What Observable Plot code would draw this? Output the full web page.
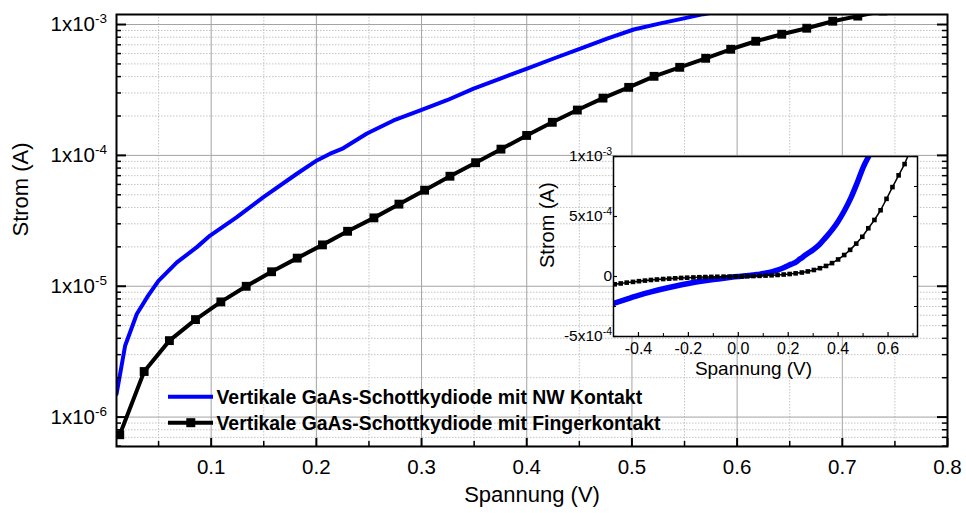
<!DOCTYPE html>
<html><head><meta charset="utf-8">
<script src="https://cdn.jsdelivr.net/npm/d3@7"></script>
<script src="https://cdn.jsdelivr.net/npm/@observablehq/plot@0.6"></script>
<style>
html,body{margin:0;padding:0;background:#fff;overflow:hidden}
#wrap{position:relative;width:966px;height:513px;font-family:"Liberation Sans",Arial,sans-serif}
#wrap svg{position:absolute;max-width:none}
</style></head><body><div id="wrap"></div>
<script>
// ---------- data ----------
const seriesNames = ["Vertikale GaAs-Schottkydiode mit NW Kontakt", "Vertikale GaAs-Schottkydiode mit Fingerkontakt"];
const seriesColors = ["#0000ff", "#000000"];

// NW contact (blue), forward
const V_nw = [0.010, 0.0182, 0.0293, 0.0401, 0.0499, 0.0674, 0.0864, 0.0990, 0.1244, 0.1497, 0.1815, 0.2005, 0.2131, 0.2243, 0.2481, 0.2734, 0.2988, 0.3242, 0.3495, 0.3749, 0.4003, 0.4256, 0.4510, 0.4764, 0.5017, 0.5271, 0.5461, 0.5680, 0.5841];
const I_nw = [1.5e-6, 3.51e-6, 6.14e-6, 8.47e-6, 1.10e-5, 1.52e-5, 1.99e-5, 2.44e-5, 3.37e-5, 4.80e-5, 7.24e-5, 9.15e-5, 1.03e-4, 1.12e-4, 1.47e-4, 1.85e-4, 2.21e-4, 2.64e-4, 3.24e-4, 3.86e-4, 4.61e-4, 5.50e-4, 6.55e-4, 7.81e-4, 9.16e-4, 1.02e-3, 1.10e-3, 1.20e-3, 1.27e-3];
// NW contact, reverse (inset only)
const V_nw_rev = [-0.5, -0.45, -0.4, -0.35, -0.3, -0.25, -0.2, -0.15, -0.1, -0.05, 0.0];
const I_nw_rev = [-2.25e-4, -1.9e-4, -1.57e-4, -1.28e-4, -1.02e-4, -7.9e-5, -5.8e-5, -4.0e-5, -2.5e-5, -1.2e-5, 0];

// Finger contact (black squares), forward
const V_fk = [0.0131, 0.0363, 0.0603, 0.0851, 0.1092, 0.1333, 0.1574, 0.1818, 0.2058, 0.2297, 0.2547, 0.2785, 0.3029, 0.3270, 0.3514, 0.3755, 0.3999, 0.4243, 0.4481, 0.4725, 0.4969, 0.5210, 0.5454, 0.5701, 0.5939, 0.6177, 0.6424, 0.6662, 0.6909, 0.7147, 0.7386];
const I_fk = [7.33e-7, 2.23e-6, 3.84e-6, 5.56e-6, 7.59e-6, 9.99e-6, 1.29e-5, 1.64e-5, 2.07e-5, 2.63e-5, 3.33e-5, 4.24e-5, 5.42e-5, 6.93e-5, 8.79e-5, 1.116e-4, 1.42e-4, 1.79e-4, 2.22e-4, 2.74e-4, 3.31e-4, 4.02e-4, 4.71e-4, 5.52e-4, 6.47e-4, 7.45e-4, 8.43e-4, 9.37e-4, 1.06e-3, 1.16e-3, 1.27e-3];
// Finger contact, reverse (inset only)
const V_fk_rev = [-0.495, -0.471, -0.447, -0.422, -0.398, -0.374, -0.350, -0.326, -0.301, -0.277, -0.253, -0.229, -0.205, -0.180, -0.156, -0.132, -0.108, -0.084, -0.059, -0.035, -0.011];
const I_fk_rev = [-6.5e-5, -5.8e-5, -5.1e-5, -4.5e-5, -3.9e-5, -3.4e-5, -2.9e-5, -2.5e-5, -2.1e-5, -1.8e-5, -1.5e-5, -1.2e-5, -1.0e-5, -8e-6, -6e-6, -4.5e-6, -3.2e-6, -2.2e-6, -1.4e-6, -8e-7, -3e-7];

// main axes ticks
const xTicks = [0.1, 0.2, 0.3, 0.4, 0.5, 0.6, 0.7, 0.8];
const xMinor = [0.05, 0.15, 0.25, 0.35, 0.45, 0.55, 0.65, 0.75];
const yTicks = [1e-6, 1e-5, 1e-4, 1e-3];
const yTickLabels = ["1x10^-6", "1x10^-5", "1x10^-4", "1x10^-3"];
const yMinor = [6e-7, 7e-7, 8e-7, 9e-7, 2e-6, 3e-6, 4e-6, 5e-6, 6e-6, 7e-6, 8e-6, 9e-6, 2e-5, 3e-5, 4e-5, 5e-5, 6e-5, 7e-5, 8e-5, 9e-5, 2e-4, 3e-4, 4e-4, 5e-4, 6e-4, 7e-4, 8e-4, 9e-4];

// inset ticks
const xTicksIn = [-0.4, -0.2, 0.0, 0.2, 0.4, 0.6];
const xMinorIn = [-0.3, -0.1, 0.1, 0.3, 0.5, 0.7];
const yTicksIn = [-5e-4, 0, 5e-4, 1e-3];
const yTickLabelsIn = ["-5x10^-4", "0", "5x10^-4", "1x10^-3"];
const yMinorIn = [-2.5e-4, 2.5e-4, 7.5e-4];

const xLabel = "Spannung (V)";
const yLabel = "Strom (A)";

// ---------- build tables ----------
const nw = V_nw.map((v, i) => ({V: v, I: I_nw[i]}));
const fk = V_fk.map((v, i) => ({V: v, I: I_fk[i]}));
const nwAll = V_nw_rev.map((v, i) => ({V: v, I: I_nw_rev[i]})).concat(nw);
const fkAll = V_fk_rev.map((v, i) => ({V: v, I: I_fk_rev[i]})).concat(fk);

const FONT = '"Liberation Sans", Arial, sans-serif';
const wrap = document.getElementById("wrap");

function supify(svg, supSize, shift) {
  d3.select(svg).selectAll("text").each(function () {
    const t = this.textContent;
    if (!t.includes("^")) return;
    const [base, exp] = t.split("^");
    const sel = d3.select(this);
    sel.selectAll("*").remove();
    this.textContent = "";
    sel.append("tspan").text(base);
    sel.append("tspan").attr("dy", shift).attr("font-size", supSize).text(exp);
  });
}

// ---------- main chart ----------
const mW = 966, mH = 513, mL = 116, mR = 19, mT = 14, mB = 67;
const iw = mW - mL - mR, ih = mH - mT - mB;
const gridMajor = "#a3a3a3", gridMinor = "#c4c4c4";

const main = Plot.plot({
  width: mW, height: mH,
  marginLeft: mL, marginRight: mR, marginTop: mT, marginBottom: mB,
  style: {background: "transparent", fontFamily: FONT, fontSize: "20.5px", color: "black", overflow: "visible"},
  x: {domain: [0.01, 0.8], ticks: xTicks, tickFormat: d => d.toFixed(1), tickSize: 0, tickPadding: 13, label: null},
  y: {type: "log", domain: [5.96e-7, 1.193e-3], ticks: yTicks, tickFormat: (d, i) => yTickLabels[yTicks.indexOf(d)], tickSize: 0, tickPadding: 9.5, label: null},
  marks: [
    Plot.ruleX(xMinor, {x: d => d, stroke: gridMinor, strokeWidth: 1, strokeDasharray: "1.5,1.5"}),
    Plot.ruleY(yMinor, {y: d => d, stroke: gridMinor, strokeWidth: 1, strokeDasharray: "1.5,1.5"}),
    Plot.ruleX(xTicks.slice(0, -1), {x: d => d, stroke: gridMajor, strokeWidth: 1}),
    Plot.ruleY(yTicks, {y: d => d, stroke: gridMajor, strokeWidth: 1}),
    Plot.line(nw, {x: "V", y: "I", stroke: seriesColors[0], strokeWidth: 4, clip: true}),
    Plot.line(fk, {x: "V", y: "I", stroke: seriesColors[1], strokeWidth: 4, clip: true}),
    Plot.dot(fk, {x: "V", y: "I", symbol: "square", r: 5, fill: seriesColors[1], stroke: null, clip: true}),
    // inward ticks
    Plot.tickY(yTicks, {y: d => d, insetRight: iw - 10, stroke: "black", strokeWidth: 2}),
    Plot.tickY(yMinor, {y: d => d, insetRight: iw - 5, stroke: "black", strokeWidth: 1.5}),
    Plot.tickY(yTicks, {y: d => d, insetLeft: iw - 10, stroke: "black", strokeWidth: 2}),
    Plot.tickY(yMinor, {y: d => d, insetLeft: iw - 5, stroke: "black", strokeWidth: 1.5}),
    Plot.tickX(xTicks, {x: d => d, insetTop: ih - 8, stroke: "black", strokeWidth: 2}),
    Plot.tickX(xMinor, {x: d => d, insetTop: ih - 5, stroke: "black", strokeWidth: 1.5}),
    Plot.frame({stroke: "black", strokeWidth: 2}),
    Plot.text([xLabel], {text: d => d, frameAnchor: "bottom", dy: 55, fontSize: 22}),
    Plot.text([yLabel], {text: d => d, frameAnchor: "left", rotate: -90, dx: -95.5, dy: 6, fontSize: 22})
  ]
});
main.style.left = "0px"; main.style.top = "0px";
supify(main, "13.5px", "-8");
wrap.appendChild(main);

// ---------- legend ----------
const leg = d3.create("svg").attr("width", mW).attr("height", mH)
  .style("left", "0px").style("top", "0px").style("font-family", FONT);
const legRows = [
  {y: 396.7, color: seriesColors[0], marker: false, name: seriesNames[0]},
  {y: 422.7, color: seriesColors[1], marker: true, name: seriesNames[1]}
];
for (const r of legRows) {
  leg.append("line").attr("x1", 168).attr("x2", 213).attr("y1", r.y).attr("y2", r.y)
    .attr("stroke", r.color).attr("stroke-width", 4);
  if (r.marker) leg.append("rect").attr("x", 186.3).attr("y", r.y - 4.5).attr("width", 9).attr("height", 9).attr("fill", r.color);
  leg.append("text").attr("x", 216.5).attr("y", r.y + 7).attr("font-size", 19.4).attr("font-weight", "bold")
    .attr("fill", "black").text(r.name);
}
wrap.appendChild(leg.node());

// ---------- inset ----------
const sW = 400, sH = 240, sL = 83, sR = 13, sT = 6, sB = 54;
const siw = sW - sL - sR, sih = sH - sT - sB;
const inset = Plot.plot({
  width: sW, height: sH,
  marginLeft: sL, marginRight: sR, marginTop: sT, marginBottom: sB,
  style: {background: "transparent", fontFamily: FONT, fontSize: "16px", color: "black", overflow: "visible"},
  x: {domain: [-0.5, 0.718], ticks: xTicksIn, tickFormat: d => d.toFixed(1), tickSize: 0, tickPadding: 6.5, label: null},
  y: {domain: [-5e-4, 1e-3], ticks: yTicksIn, tickFormat: d => yTickLabelsIn[yTicksIn.indexOf(d)], tickSize: 0, tickPadding: 1.5, label: null},
  marks: [
    Plot.frame({fill: "white", stroke: null}),
    Plot.line(nwAll, {x: "V", y: "I", stroke: seriesColors[0], strokeWidth: 5.5, clip: true, curve: "monotone-x"}),
    Plot.line(fkAll, {x: "V", y: "I", stroke: seriesColors[1], strokeWidth: 1.5, clip: true}),
    Plot.dot(fkAll, {x: "V", y: "I", symbol: "square", r: 2.6, fill: seriesColors[1], stroke: null, clip: true}),
    Plot.tickY(yTicksIn, {y: d => d, insetRight: siw - 4, stroke: "black", strokeWidth: 1.2}),
    Plot.tickY(yMinorIn, {y: d => d, insetRight: siw - 3, stroke: "black", strokeWidth: 1}),
    Plot.tickY(yTicksIn, {y: d => d, insetLeft: siw - 4, stroke: "black", strokeWidth: 1.2}),
    Plot.tickY(yMinorIn, {y: d => d, insetLeft: siw - 3, stroke: "black", strokeWidth: 1}),
    Plot.tickX(xTicksIn, {x: d => d, insetTop: sih - 4, stroke: "black", strokeWidth: 1.2}),
    Plot.tickX(xMinorIn, {x: d => d, insetTop: sih - 3, stroke: "black", strokeWidth: 1}),
    Plot.frame({stroke: "black", strokeWidth: 1.5}),
    Plot.text([xLabel], {text: d => d, frameAnchor: "bottom", dx: -12, dy: 38.6, fontSize: 19}),
    Plot.text([yLabel], {text: d => d, frameAnchor: "left", rotate: -90, dx: -65.7, dy: 21.5, fontSize: 20})
  ]
});
inset.style.left = "530px"; inset.style.top = "150px";
d3.select(inset).selectAll('g[aria-label="y-axis tick label"] text').attr("font-size", "15.5px");
supify(inset, "10.5px", "-6");
wrap.appendChild(inset);
</script></body></html>
